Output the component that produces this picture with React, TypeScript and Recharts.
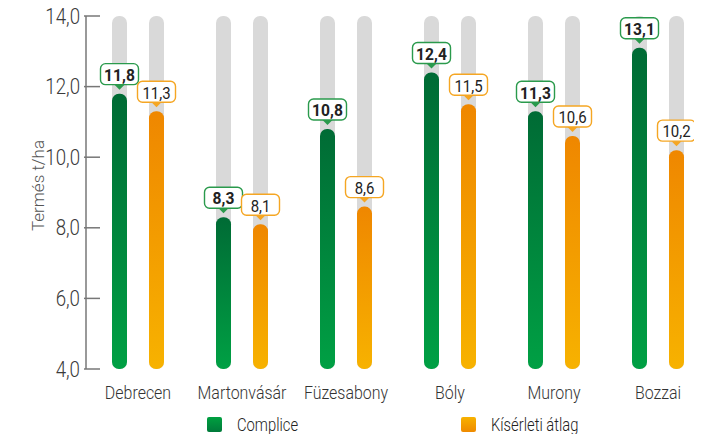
import React from 'react';
import { BarChart, Bar, XAxis, YAxis, LabelList, Legend, Label } from 'recharts';

const locations = ['Debrecen', 'Martonvásár', 'Füzesabony', 'Bóly', 'Murony', 'Bozzai'];
const compliceValues = [11.8, 8.3, 10.8, 12.4, 11.3, 13.1];
const averageValues = [11.3, 8.1, 8.6, 11.5, 10.6, 10.2];
const yTicks = [4, 6, 8, 10, 12, 14];

const data = locations.map((name, i) => ({
    name,
    complice: compliceValues[i],
    average: averageValues[i],
}));

const FONT = 'Roboto, "Noto Sans", sans-serif';
const fmt = (v: number) => v.toFixed(1).replace('.', ',');

// callout box above each bar
const makeCallout = (stroke: string, bold: boolean) => (props: any) => {
    const { x, y, width, value } = props;
    const cx = x + width / 2;
    const w = 38;
    const h = 21;
    const top = y - 30;
    const bottom = top + h;
    return (
        <g>
            <rect x={cx - w / 2} y={top} width={w} height={h} rx={5} ry={5} fill="#fff" stroke={stroke} strokeWidth={1.4} />
            <path d={`M${cx - 5},${bottom} L${cx + 5},${bottom} L${cx},${bottom + 5} Z`} fill={stroke} />
            <g transform={`translate(${cx}, ${top + h / 2 + 1}) scale(${bold ? 0.92 : 0.88}, 1)`}>
                <text
                    x={0}
                    y={0}
                    textAnchor="middle"
                    dominantBaseline="central"
                    fontSize={17}
                    fontWeight={bold ? 700 : 400}
                    fill="#222"
                    fontFamily={FONT}
                >
                    {fmt(value)}
                </text>
            </g>
        </g>
    );
};

const YTick = (props: any) => {
    const { x, y, payload } = props;
    return (
        <g>
            <line x1={x} x2={x + 16} y1={y} y2={y} stroke="#777" strokeWidth={1.5} />
            <g transform={`translate(${x - 4}, ${y}) scale(0.85, 1)`}>
                <text x={0} y={0} textAnchor="end" dominantBaseline="central" fontSize={22} fontWeight={300} fill="#3a3a3a" fontFamily={FONT}>
                    {fmt(payload.value)}
                </text>
            </g>
        </g>
    );
};

const XTick = (props: any) => {
    const { x, y, payload } = props;
    return (
        <g transform={`translate(${x}, ${y}) scale(0.84, 1)`}>
            <text x={0} y={0} dy="0.71em" textAnchor="middle" fontSize={19} fontWeight={300} fill="#333" fontFamily={FONT}>
                {payload.value}
            </text>
        </g>
    );
};

const legendItems = [
    { label: 'Complice', bg: 'linear-gradient(#00a040, #007a3a)', left: 207 },
    { label: 'Kísérleti átlag', bg: 'linear-gradient(#f7b200, #ef8a00)', left: 461 },
];

const LegendContent = () => (
    <div style={{ position: 'relative', height: 19, fontFamily: FONT }}>
        {legendItems.map((item) => (
            <div key={item.label} style={{ position: 'absolute', left: item.left, top: 0, height: 19, display: 'flex', alignItems: 'center' }}>
                <span style={{ width: 15, height: 15, borderRadius: 2, background: item.bg, display: 'inline-block' }} />
                <span
                    style={{
                        marginLeft: 15,
                        fontSize: 18,
                        fontWeight: 300,
                        lineHeight: '19px',
                        color: '#222',
                        display: 'inline-block',
                        transform: 'scaleX(0.82)',
                        transformOrigin: 'left center',
                        whiteSpace: 'nowrap',
                    }}
                >
                    {item.label}
                </span>
            </div>
        ))}
    </div>
);

export default function App() {
    return (
        <div style={{ width: 710, height: 434, margin: '-8px 0 0 -8px', fontFamily: FONT }}>
            <BarChart
                width={710}
                height={434}
                data={data}
                margin={{ top: 16, right: 0, left: 8, bottom: 25 }}
                barSize={15}
                barGap={22}
            >
                <defs>
                    <linearGradient id="gradGreen" x1="0" y1="0" x2="0" y2="1">
                        <stop offset="0%" stopColor="#006b35" />
                        <stop offset="100%" stopColor="#00a044" />
                    </linearGradient>
                    <linearGradient id="gradOrange" x1="0" y1="0" x2="0" y2="1">
                        <stop offset="0%" stopColor="#ef8700" />
                        <stop offset="100%" stopColor="#f7b200" />
                    </linearGradient>
                </defs>
                <XAxis
                    dataKey="name"
                    height={40}
                    axisLine={false}
                    tickLine={false}
                    tickSize={0}
                    tickMargin={16}
                    tick={<XTick />}
                    interval={0}
                />
                <YAxis
                    width={78}
                    domain={[4, 14]}
                    ticks={yTicks}
                    allowDataOverflow
                    axisLine={{ stroke: '#777', strokeWidth: 1.5 }}
                    tickLine={false}
                    tickSize={0}
                    tick={<YTick />}
                >
                    <Label
                        content={(p: any) => {
                            const vb = p.viewBox;
                            const cx = vb.x + 30;
                            const cy = vb.y + vb.height / 2 - 7;
                            return (
                                <text
                                    x={cx}
                                    y={cy}
                                    transform={`rotate(-90, ${cx}, ${cy})`}
                                    textAnchor="middle"
                                    dominantBaseline="central"
                                    fontSize={17}
                                    fontWeight={300}
                                    fill="#555"
                                    fontFamily={FONT}
                                >
                                    Termés t/ha
                                </text>
                            );
                        }}
                    />
                </YAxis>
                <Legend
                    verticalAlign="middle"
                    content={<LegendContent />}
                    wrapperStyle={{ top: 415, left: 0, width: 710, height: 19 }}
                />
                <Bar
                    dataKey="complice"
                    name="Complice"
                    fill="url(#gradGreen)"
                    radius={7}
                    background={{ fill: '#d9d9d9', radius: 7 }}
                    isAnimationActive={false}
                >
                    <LabelList dataKey="complice" content={makeCallout('#2a9a4c', true)} />
                </Bar>
                <Bar
                    dataKey="average"
                    name="Kísérleti átlag"
                    fill="url(#gradOrange)"
                    radius={7}
                    background={{ fill: '#d9d9d9', radius: 7 }}
                    isAnimationActive={false}
                >
                    <LabelList dataKey="average" content={makeCallout('#f5a623', false)} />
                </Bar>
            </BarChart>
        </div>
    );
}
